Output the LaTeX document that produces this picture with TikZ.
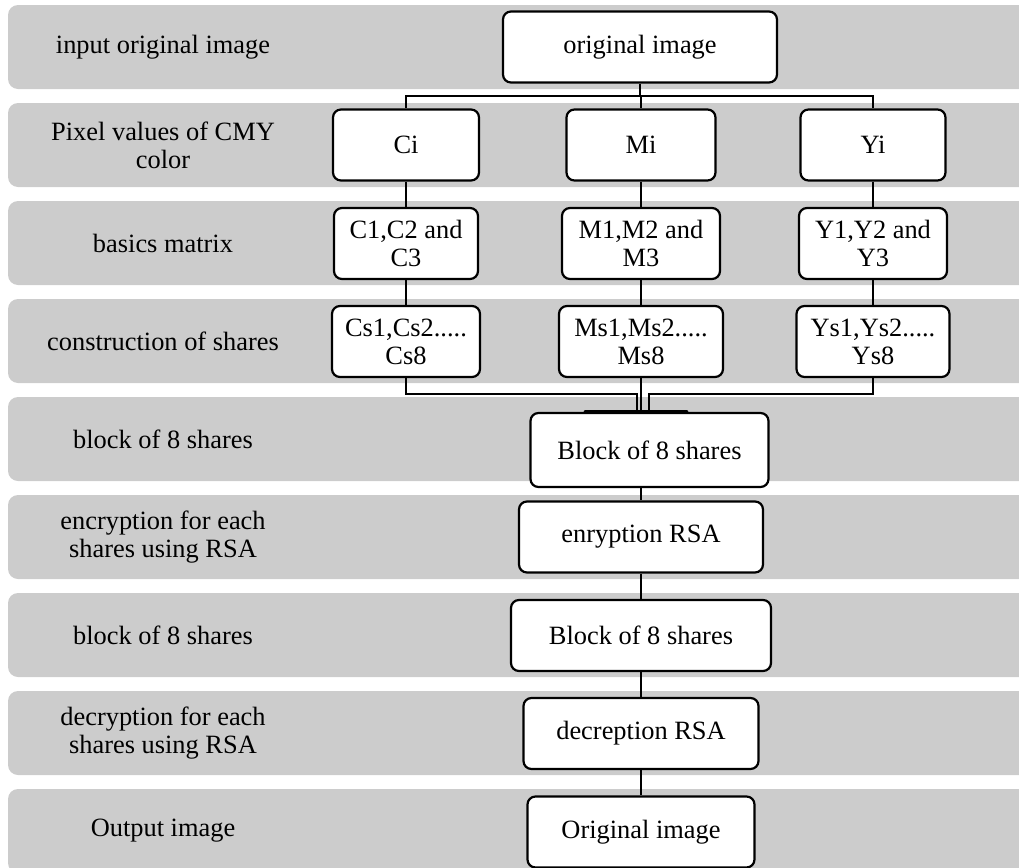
\documentclass[tikz,border=0pt]{standalone}
\usepackage{fontspec}
\setmainfont{Liberation Serif}
\usetikzlibrary{positioning}

\begin{document}
\begin{tikzpicture}[x=0.5pt,y=-0.5pt,semithick]
  \tikzstyle{every node}=[font=\fontsize{13.2}{14}\selectfont,align=center]
  \tikzstyle{band}=[fill=black!20,draw=none,rounded corners=5pt]
  \tikzstyle{box}=[draw,fill=white,rounded corners=4pt,line width=1.1pt,
                   minimum height=35.5pt,inner sep=2pt]
  \tikzstyle{wire}=[line width=0.9pt]

  \useasboundingbox (0,0) rectangle (1019,868);
  \clip (0,0) rectangle (1019,868);

  % grey bands
  \foreach \i in {0,...,8}
    \fill[band] (8,5+98*\i) rectangle (1040,89+98*\i);

  % row labels
  \node (lin)  at (163,47)  {input original image};
  \node (lpix) at (163,145) {Pixel values of CMY\\color};
  \node (lbas) at (163,243) {basics matrix};
  \node (lcon) at (163,341) {construction of shares};
  \node (lblk) at (163,439) {block of 8 shares};
  \node (lenc) at (163,537) {encryption for each\\shares using RSA};
  \node (lbl2) at (163,635) {block of 8 shares};
  \node (ldec) at (163,733) {decryption for each\\shares using RSA};
  \node (lout) at (163,831) {Output image};

  % boxes
  \node[box,minimum width=137pt] (orig) at (640,47)  {original image};
  \node[box,minimum width=73pt]  (ci)   at (406,145) {Ci};
  \node[box,minimum width=74.5pt](mi)   at (641,145) {Mi};
  \node[box,minimum width=72.5pt](yi)   at (873,145) {Yi};
  \node[box,minimum width=72pt]  (cm)   at (406,243.5) {C1,C2 and\\C3};
  \node[box,minimum width=79pt]  (mm)   at (641,243.5) {M1,M2 and\\M3};
  \node[box,minimum width=74pt]  (ym)   at (873,243.5) {Y1,Y2 and\\Y3};
  \node[box,minimum width=74pt]  (cs)   at (406,341.5) {Cs1,Cs2.....\\Cs8};
  \node[box,minimum width=82pt]  (ms)   at (641,341.5) {Ms1,Ms2.....\\Ms8};
  \node[box,minimum width=76.5pt](ys)   at (873,341.5) {Ys1,Ys2.....\\Ys8};
  \node[box,minimum width=119pt,minimum height=37pt] (blk) at (649.5,450) {Block of 8 shares};
  \node[box,minimum width=122pt] (enc)  at (641,537)   {enryption RSA};
  \node[box,minimum width=130pt] (blk2) at (641,635.5) {Block of 8 shares};
  \node[box,minimum width=117.5pt](dec) at (641,733.5) {decreption RSA};
  \node[box,minimum width=113.5pt](out) at (641,832)   {Original image};

  \coordinate (split) at (640,96);
  \coordinate (cjoin) at (637,394);
  \coordinate (yjoin) at (649,394);

  % connectors
  \draw[wire] (orig.south) -- (split);
  \draw[wire] (ci.north) |- (split) -| (yi.north);
  \draw[wire] (mi.north |- split) -- (mi.north);
  \draw[wire] (ci.south) -- (cm.north);
  \draw[wire] (mi.south) -- (mm.north);
  \draw[wire] (yi.south) -- (ym.north);
  \draw[wire] (cm.south) -- (cs.north);
  \draw[wire] (mm.south) -- (ms.north);
  \draw[wire] (ym.south) -- (ys.north);
  \draw[wire] (cs.south) |- (cjoin) -- (cjoin |- blk.north);
  \draw[wire] (ys.south) |- (yjoin) -- (yjoin |- blk.north);
  \draw[wire] (ms.south) -- (ms.south |- blk.north);
  \draw[line width=1.8pt,line cap=round] ([xshift=28pt]blk.north west) -- ([xshift=-41.5pt]blk.north east);
  \draw[wire] (blk.south -| enc.north) -- (enc.north);
  \draw[wire] (enc.south) -- (blk2.north);
  \draw[wire] (blk2.south) -- (dec.north);
  \draw[wire] (dec.south) -- (out.north);
\end{tikzpicture}
\end{document}
